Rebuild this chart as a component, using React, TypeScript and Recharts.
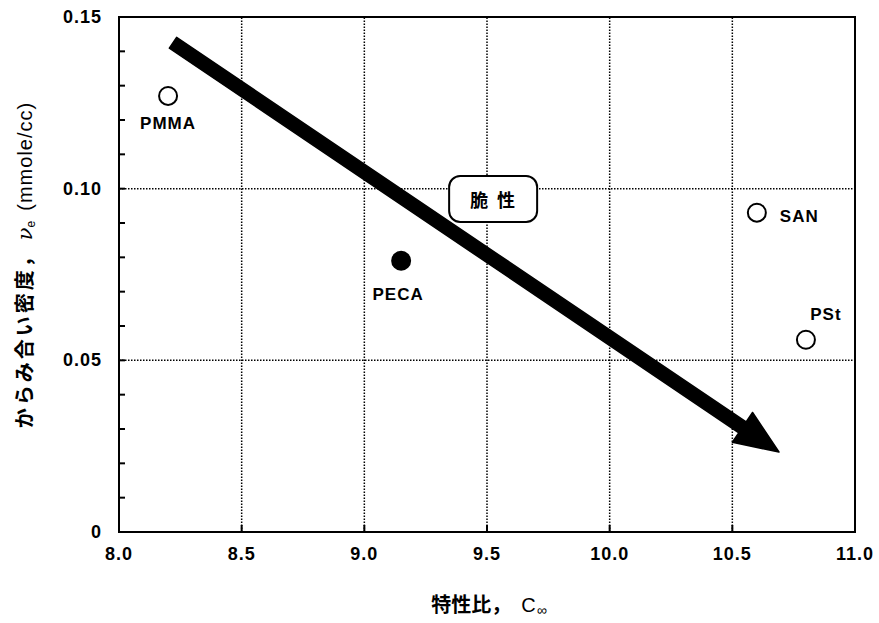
import { ScatterChart, Scatter, XAxis, YAxis, ReferenceLine, ReferenceArea, ReferenceDot } from "recharts"

const polymers = ["PMMA", "PECA", "SAN", "PSt"]
const charRatio = [8.2, 9.15, 10.6, 10.8]
const entDensity = [0.127, 0.079, 0.093, 0.056]
const filledMarker = [false, true, false, false]

const xTicks = [8.0, 8.5, 9.0, 9.5, 10.0, 10.5, 11.0]
const yTicks = [0, 0.01, 0.02, 0.03, 0.04, 0.05, 0.06, 0.07, 0.08, 0.09, 0.1, 0.11, 0.12, 0.13, 0.14, 0.15]
const yLabelTicks = [0, 0.05, 0.1, 0.15]
const gridX = [8.5, 9.0, 9.5, 10.0, 10.5]
const gridY = [0.05, 0.1]

// trend arrow start / tip (data units)
const arrowX = [8.22, 10.69]
const arrowY = [0.1425, 0.0233]
const brittleLabel = "脆性"
const brittleX = 9.525
const brittleY = 0.097

const data = polymers.map((name, i) => ({ name, x: charRatio[i], y: entDensity[i], filled: filledMarker[i] }))

// label placement relative to marker (px)
const labelPos: Record<string, { dx: number; dy: number; anchor: string }> = {
  PMMA: { dx: 0, dy: 33, anchor: "middle" },
  PECA: { dx: -3, dy: 39, anchor: "middle" },
  SAN: { dx: 23, dy: 9, anchor: "start" },
  PSt: { dx: 20, dy: -20, anchor: "middle" },
}

const sans = "'Liberation Sans', Arial, sans-serif"
const jp = "'Noto Sans CJK JP', sans-serif"

function XTick(props: any) {
  const { x, y, payload } = props
  return (
    <g>
      <line x1={x} y1={y} x2={x} y2={y - 7} stroke="#000" strokeWidth={2} />
      <text x={x} y={y + 28} textAnchor="middle" fontFamily={sans} fontWeight="bold" fontSize={18} letterSpacing={1}>
        {payload.value.toFixed(1)}
      </text>
    </g>
  )
}

function YTick(props: any) {
  const { x, y, payload } = props
  const v = payload.value
  const showLabel = yLabelTicks.some((t) => Math.abs(t - v) < 1e-9)
  return (
    <g>
      <line x1={x} y1={y} x2={x + 6} y2={y} stroke="#000" strokeWidth={2} />
      {showLabel && (
        <text x={x - 17} y={y + 6} textAnchor="end" fontFamily={sans} fontWeight="bold" fontSize={18} letterSpacing={1}>
          {v === 0 ? "0" : v.toFixed(2)}
        </text>
      )}
    </g>
  )
}

function Marker(props: any) {
  const { cx, cy, payload } = props
  const lp = labelPos[payload.name]
  return (
    <g>
      <circle cx={cx} cy={cy} r={9} fill={payload.filled ? "#000" : "#fff"} stroke="#000" strokeWidth={2} />
      <text x={cx + lp.dx} y={cy + lp.dy} textAnchor={lp.anchor} fontFamily={sans} fontWeight="bold" fontSize={17} letterSpacing={1}>
        {payload.name}
      </text>
    </g>
  )
}

function Arrow(props: any) {
  const { x1, y1, x2, y2 } = props
  const dx = x2 - x1
  const dy = y2 - y1
  const len = Math.sqrt(dx * dx + dy * dy)
  const ux = dx / len
  const uy = dy / len
  const nx = -uy
  const ny = ux
  const w = 6.5
  const hw = 18
  const hl = 44
  const bx = x2 - ux * hl
  const by = y2 - uy * hl
  const pts = [
    [x1 + nx * w, y1 + ny * w],
    [bx + nx * w, by + ny * w],
    [bx + nx * hw, by + ny * hw],
    [x2, y2],
    [bx - nx * hw, by - ny * hw],
    [bx - nx * w, by - ny * w],
    [x1 - nx * w, y1 - ny * w],
  ]
  return <polygon points={pts.map((p) => p.join(",")).join(" ")} fill="#000" stroke="#000" strokeWidth={1.5} strokeLinejoin="round" />
}

function BrittleBox(props: any) {
  const { cx, cy } = props
  return (
    <g>
      <rect x={cx - 44} y={cy - 23} width={88} height={46} rx={11} fill="#fff" stroke="#000" strokeWidth={2} />
      <text x={cx + 4} y={cy + 8} textAnchor="middle" fontFamily={jp} fontWeight="bold" fontSize={18} letterSpacing={9}>
        {brittleLabel}
      </text>
    </g>
  )
}

function YLabel(props: any) {
  const { viewBox } = props
  const x = viewBox.x + 32
  const y = 265
  return (
    <text transform={`translate(${x},${y}) rotate(-90)`} textAnchor="middle" fontSize={20}>
      <tspan fontFamily={jp} fontWeight="bold" letterSpacing={3}>からみ合い密度，</tspan>
      <tspan fontFamily="'DejaVu Serif', serif" fontStyle="italic" fontSize={21} dx={4}>ν</tspan>
      <tspan fontFamily={sans} fontSize={12} dy={3}>e</tspan>
      <tspan fontFamily={sans} dy={-3} dx={10} letterSpacing={1}>(mmole/cc)</tspan>
    </text>
  )
}

function XLabel(props: any) {
  const { viewBox } = props
  const x = viewBox.x + viewBox.width / 2 + 2
  const y = viewBox.y + 80
  return (
    <text x={x} y={y} textAnchor="middle" fontSize={20}>
      <tspan fontFamily={jp} fontWeight="bold">特性比，</tspan>
      <tspan fontFamily={sans} dx={10}>C</tspan>
      <tspan fontFamily={sans} fontSize={14} dy={3} dx={1}>∞</tspan>
    </text>
  )
}

function XLabelWrap(props: any) {
  return <XLabel {...props} />
}

function YLabelWrap(props: any) {
  return <YLabel {...props} />
}

export default function App() {
  return (
    <div style={{ position: "absolute", left: 0, top: 0, width: 879, height: 623, background: "#fff" }}>
      <ScatterChart width={879} height={623} margin={{ top: 17, right: 24, bottom: 0, left: 0 }}>
        <XAxis
          type="number"
          dataKey="x"
          domain={[8, 11]}
          ticks={xTicks}
          allowDataOverflow
          axisLine={false}
          tickLine={false}
          tickSize={0}
          tickMargin={0}
          height={91}
          tick={<XTick />}
          label={<XLabelWrap />}
        />
        <YAxis
          type="number"
          dataKey="y"
          domain={[0, 0.15]}
          ticks={yTicks}
          allowDataOverflow
          axisLine={false}
          tickLine={false}
          tickSize={0}
          tickMargin={0}
          width={119}
          interval={0}
          tick={<YTick />}
          label={<YLabelWrap />}
        />
        {gridX.map((v) => (
          <ReferenceLine key={"gx" + v} x={v} stroke="#000" strokeWidth={1.5} strokeDasharray="1.5 1.5" />
        ))}
        {gridY.map((v) => (
          <ReferenceLine key={"gy" + v} y={v} stroke="#000" strokeWidth={1.5} strokeDasharray="1.5 1.5" />
        ))}
        <ReferenceArea x1={8} x2={11} y1={0} y2={0.15} fill="none" stroke="#000" strokeWidth={2} fillOpacity={0} />
        <ReferenceLine
          segment={[
            { x: arrowX[0], y: arrowY[0] },
            { x: arrowX[1], y: arrowY[1] },
          ]}
          ifOverflow="visible"
          shape={(p: any) => <Arrow {...p} />}
        />
        <ReferenceDot x={brittleX} y={brittleY} ifOverflow="visible" shape={(p: any) => <BrittleBox {...p} />} />
        <Scatter data={data} isAnimationActive={false} shape={(p: any) => <Marker {...p} />} />
      </ScatterChart>
    </div>
  )
}
